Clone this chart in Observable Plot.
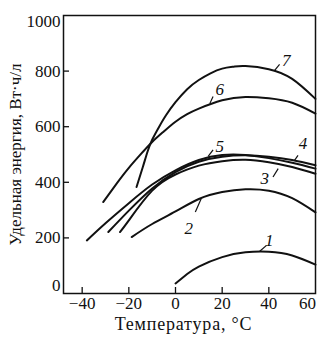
<!DOCTYPE html>
<html><head><meta charset="utf-8">
<script src="https://cdn.jsdelivr.net/npm/d3@7"></script>
<script src="https://cdn.jsdelivr.net/npm/@observablehq/plot@0.6"></script>
<style>
body{margin:0;background:#fff}
#chart svg{display:block;background:#fff}
</style>
</head><body><div id="chart"></div>
<script>
// Temperature (°C) and specific energy (Wh/l) for each curve
const t1 = [0, 5, 10, 20, 30, 40, 50, 60];
const e1 = [36, 70, 97, 131, 148, 150, 137, 104];
const t2 = [-18.8, -10, 0, 10, 20, 30, 40, 50, 60];
const e2 = [203, 250, 295, 340, 365, 375, 370, 343, 292];
const t3 = [-23.8, -20, -10, 0, 10, 20, 30, 40, 50, 60];
const e3 = [221, 263, 370, 428, 460, 476, 481, 472, 455, 431];
const t4 = [-28.8, -20, -10, 0, 10, 20, 30, 40, 50, 60];
const e4 = [221, 298, 378, 437, 474, 492, 497, 492, 480, 461];
const t5 = [-38, -30, -20, -10, 0, 10, 20, 30, 40, 50, 60];
const e5 = [191, 253, 325, 392, 443, 480, 498, 498, 487, 470, 449];
const t6 = [-31, -25, -20, -15, -10, -5, 0, 5, 10, 20, 30, 40, 50, 60];
const e6 = [329, 398, 452, 500, 545, 583, 618, 645, 665, 695, 707, 702, 686, 647];
const t7 = [-16.7, -14, -12, -10, -7, -4, 0, 5, 10, 15, 20, 25, 30, 40, 50, 60];
const e7 = [383, 455, 510, 553, 600, 642, 688, 735, 768, 792, 809, 816, 818, 807, 772, 700];

// Curve labels and their leader strokes
const labelNames = ["1", "2", "3", "4", "5", "6", "7"];
const labelT = [40.2, 5.7, 38.2, 54.6, 19, 19, 47.5];
const labelE = [191, 233, 413, 540, 530, 733, 839];
const leadT1 = [36, 8.5, 41.8, 51, 14, 14.7, 42.5];
const leadE1 = [151, 293, 419, 479, 493, 683, 803];
const leadT2 = [39, 11, 44, 52.5, 16.1, 16.1, 44.6];
const leadE2 = [173, 341, 449, 497, 517, 709, 824];

// Axes
const xTicks = [-40, -20, 0, 20, 40, 60];
const yTicks = [0, 200, 400, 600, 800, 1000];
const xTitle = "Температура, °C";
const yTitle = "Удельная энергия, Вт·ч/л";

const series = [[t1,e1],[t2,e2],[t3,e3],[t4,e4],[t5,e5],[t6,e6],[t7,e7]];
const rows = series.flatMap(([ts, es], i) => ts.map((t, j) => ({curve: String(i + 1), t, e: es[j]})));
const labels = labelNames.map((n, i) => ({n, t: labelT[i], e: labelE[i], t1: leadT1[i], e1: leadE1[i], t2: leadT2[i], e2: leadE2[i]}));

const W = 331, H = 340, mL = 63, mR = 16, mT = 15, mB = 47;
const font = "'Liberation Serif', 'Times New Roman', serif";
const fmtX = d => d < 0 ? "\u2212" + Math.abs(d) : String(d);
const tickStyle = {tickSize: 0, label: null, fontSize: 17, fill: "#111"};

const chart = Plot.plot({
  width: W, height: H,
  marginLeft: mL, marginRight: mR, marginTop: mT, marginBottom: mB,
  style: {fontFamily: font, fontSize: "16px", color: "#111", background: "#fff"},
  x: {domain: [-48, 60]},
  y: {domain: [0, 1000]},
  marks: [
    Plot.frame({stroke: "#111", strokeWidth: 1.5}),
    Plot.axisX({...tickStyle, ticks: xTicks.slice(0, 5), tickPadding: 3, tickFormat: fmtX}),
    Plot.axisX({...tickStyle, ticks: xTicks.slice(5), tickPadding: 3, tickFormat: fmtX, dx: -8}),
    Plot.axisY({...tickStyle, ticks: yTicks.slice(1, 5), tickPadding: 3, tickFormat: d => String(d)}),
    Plot.axisY({...tickStyle, ticks: yTicks.slice(0, 1), tickPadding: 3, tickFormat: d => String(d), dy: -8}),
    Plot.axisY({...tickStyle, ticks: yTicks.slice(5), tickPadding: 3, tickFormat: d => String(d), dy: 6}),
    Plot.tickX(xTicks.slice(0, 5), {x: d => d, insetTop: 272, stroke: "#111", strokeWidth: 1.3}),
    Plot.tickY(yTicks.slice(1, 5), {y: d => d, insetRight: 246, stroke: "#111", strokeWidth: 1.3}),
    Plot.line(rows, {x: "t", y: "e", z: "curve", curve: "natural", stroke: "#111", strokeWidth: 2}),
    Plot.link(labels, {x1: "t1", y1: "e1", x2: "t2", y2: "e2", stroke: "#111", strokeWidth: 1.2}),
    Plot.text(labels, {x: "t", y: "e", text: "n", fontStyle: "italic", fontSize: 17, fill: "#111"}),
    Plot.text([xTitle], {text: d => d, frameAnchor: "bottom", textAnchor: "middle", dy: 36, dx: -6,
      fontSize: 18, fill: "#111"}),
    Plot.text([yTitle], {text: d => d, frameAnchor: "left", textAnchor: "middle", rotate: -90, dx: -48,
      fontSize: 17, fill: "#111"})
  ]
});
chart.querySelectorAll("text").forEach(t => { if (t.textContent === xTitle) t.style.letterSpacing = "0.8px"; });
document.getElementById("chart").append(chart);
</script>
</body></html>
